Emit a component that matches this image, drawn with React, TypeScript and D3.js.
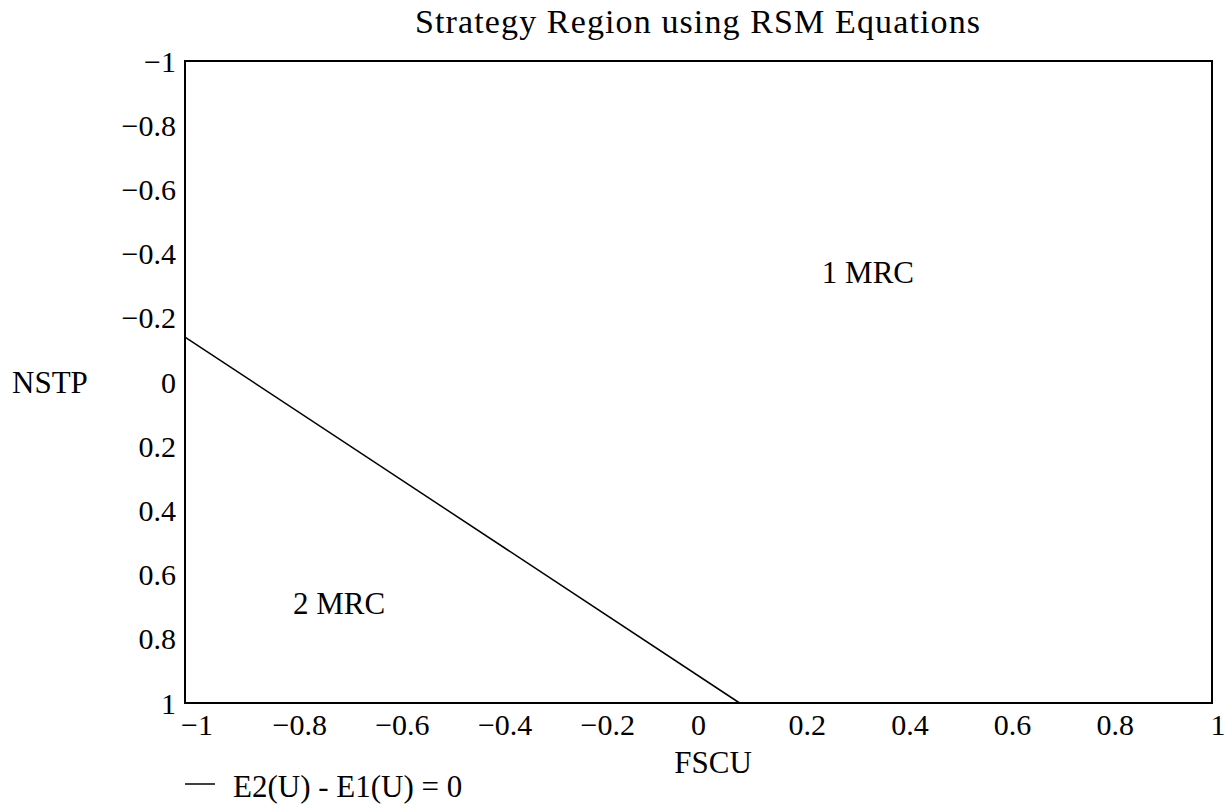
import * as d3 from 'd3';

const xTicks = [-1, -0.8, -0.6, -0.4, -0.2, 0, 0.2, 0.4, 0.6, 0.8, 1];
const yTicks = [-1, -0.8, -0.6, -0.4, -0.2, 0, 0.2, 0.4, 0.6, 0.8, 1];
// boundary E2(U) - E1(U) = 0
const boundaryFscu = [-1, 0.08];
const boundaryNstp = [-0.14, 1];
const regionLabels = ['1 MRC', '2 MRC'];
const regionFscu = [0.33, -0.7];
const regionNstp = [-0.34, 0.69];

const fmt = (v: number) => (v < 0 ? '\u2212' + String(Math.abs(v)) : String(v));

export default function App() {
  const width = 1227;
  const height = 804;
  const margin = { top: 61, right: 15, bottom: 101, left: 185 };
  const font = "'Liberation Serif', 'Times New Roman', serif";

  const x = d3.scaleLinear().domain([-1, 1]).range([margin.left, width - margin.right]);
  const y = d3.scaleLinear().domain([-1, 1]).range([margin.top, height - margin.bottom]);

  const pts = boundaryFscu.map((f, i) => [f, boundaryNstp[i]] as [number, number]);
  const line = d3.line<[number, number]>().x(d => x(d[0])).y(d => y(d[1]));

  return (
    <svg
      width={width}
      height={height}
      style={{ position: 'absolute', left: 0, top: 0, background: '#fff' }}
      fontFamily={font}
      fill="#000"
    >
      <text x={415} y={33} fontSize={34} textLength={565} lengthAdjust="spacing">
        Strategy Region using RSM Equations
      </text>

      <rect
        x={x(-1)}
        y={y(-1)}
        width={x(1) - x(-1)}
        height={y(1) - y(-1)}
        fill="none"
        stroke="#000"
        strokeWidth={2}
      />

      {yTicks.map(t => (
        <text key={'y' + t} x={176} y={y(t)} fontSize={30} textAnchor="end" dominantBaseline="central">
          {fmt(t)}
        </text>
      ))}
      {xTicks.map(t => (
        <text
          key={'x' + t}
          x={x(t) + (t < 0 ? 12 : t === 0 ? 0 : 6)}
          y={724}
          fontSize={30}
          textAnchor="middle"
          dominantBaseline="central"
        >
          {fmt(t)}
        </text>
      ))}

      <text x={12} y={382} fontSize={31} dominantBaseline="central">NSTP</text>
      <text x={713} y={762} fontSize={31} textAnchor="middle" dominantBaseline="central">FSCU</text>

      <path d={line(pts) ?? ''} fill="none" stroke="#000" strokeWidth={1.5} />

      {regionLabels.map((l, i) => (
        <text key={l} x={x(regionFscu[i])} y={y(regionNstp[i])} fontSize={31} textAnchor="middle" dominantBaseline="central">
          {l}
        </text>
      ))}

      <line x1={185} x2={215} y1={784} y2={784} stroke="#000" strokeWidth={1.5} />
      <text x={233} y={786} fontSize={31} dominantBaseline="central">E2(U) - E1(U) = 0</text>
    </svg>
  );
}
